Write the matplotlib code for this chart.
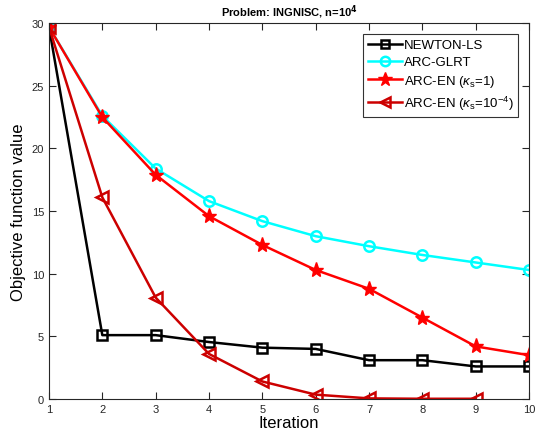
import numpy as np
import matplotlib.pyplot as plt

plt.rcParams['font.family'] = ['Liberation Sans', 'DejaVu Sans']
plt.rcParams['mathtext.fontset'] = 'custom'
plt.rcParams['mathtext.it'] = 'Liberation Sans:italic'
plt.rcParams['mathtext.rm'] = 'Liberation Sans'

iters = np.arange(1, 11)
newton_ls = [29.7, 5.1, 5.1, 4.55, 4.1, 4.0, 3.1, 3.1, 2.6, 2.6]
arc_glrt = [29.7, 22.6, 18.4, 15.8, 14.2, 13.0, 12.2, 11.5, 10.9, 10.3]
arc_en_1 = [29.7, 22.5, 17.9, 14.6, 12.3, 10.3, 8.8, 6.5, 4.2, 3.5]
arc_en_small = [29.7, 16.1, 8.1, 3.6, 1.4, 0.35, 0.05, 0.02, 0.02]

fig = plt.figure(figsize=(5.4, 4.39), dpi=100)
ax = fig.add_axes([0.0907, 0.0888, 0.889, 0.856])

ax.plot(iters, newton_ls, color='black', lw=1.8, marker='s', ms=6.5, mfc='none', mew=1.8,
        label='NEWTON-LS')
ax.plot(iters, arc_glrt, color='cyan', lw=1.8, marker='o', ms=7.5, mfc='none', mew=1.8,
        label='ARC-GLRT')
ax.plot(iters, arc_en_1, color='red', lw=1.8, marker='*', ms=11, mew=1,
        label=r'ARC-EN ($\kappa_{\rm s}$=1)')
ax.plot(iters[:len(arc_en_small)], arc_en_small, color='#cc0000', lw=1.8, marker='<', ms=8.5,
        mfc='none', mew=1.8, label=r'ARC-EN ($\kappa_{\rm s}$=10$^{-4}$)')

ax.set_xlim(1, 10)
ax.set_ylim(0, 30)
ax.set_xticks(iters)
ax.set_yticks([0, 5, 10, 15, 20, 25, 30])
ax.tick_params(direction='in', top=True, right=True, labelsize=8, length=5, colors='#262626')
for s in ax.spines.values():
    s.set_color('#262626')
ax.set_xlabel('Iteration', fontsize=12, labelpad=1)
ax.set_ylabel('Objective function value', fontsize=12, labelpad=4)
ax.set_title(r'Problem: INGNISC, n=10$^{\mathbf{4}}$', fontsize=8, fontweight='bold', pad=6)

leg = ax.legend(loc='upper right', fontsize=9.5, handlelength=2.6, frameon=True, fancybox=False,
                borderaxespad=0.8, labelspacing=0.35, handletextpad=0.1, borderpad=0.4,
                markerscale=0.9)
leg.get_frame().set_edgecolor('black')
leg.get_frame().set_linewidth(0.8)

fig.savefig('out.png', dpi=100)
